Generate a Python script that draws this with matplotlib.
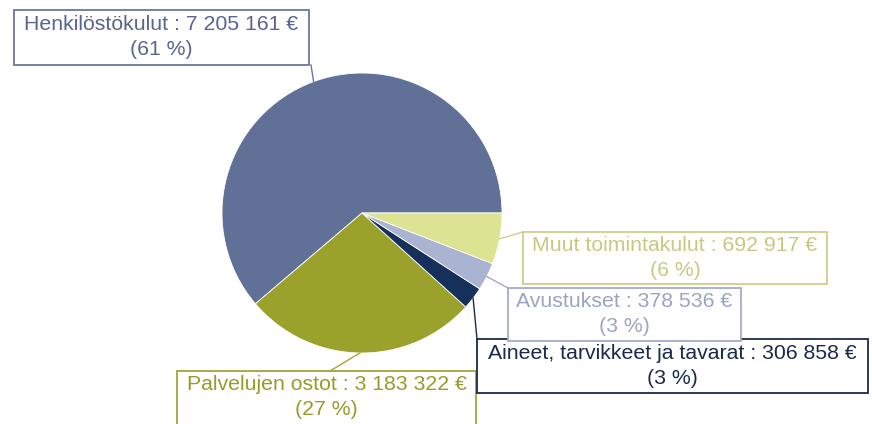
import numpy as np
import matplotlib
matplotlib.use("Agg")
import matplotlib.pyplot as plt
from matplotlib.patches import Rectangle

# ---- data ----
categories = ["Henkilöstökulut", "Palvelujen ostot", "Aineet, tarvikkeet ja tavarat",
              "Avustukset", "Muut toimintakulut"]
values = [7205161, 3183322, 306858, 378536, 692917]
value_labels = ["7 205 161 €", "3 183 322 €", "306 858 €", "378 536 €", "692 917 €"]
pct_labels = ["61 %", "27 %", "3 %", "3 %", "6 %"]

# ---- styles ----
slice_colors = ["#617097", "#9AA22B", "#15305A", "#AAB3D1", "#DCE393"]
text_colors = ["#56668F", "#969C2A", "#1A2A4C", "#9CA4C3", "#C5CA80"]
edge_colors = ["#6A789E", "#A0A63A", "#1A2A4C", "#A3ABC9", "#CBD08A"]

W, H = 872, 424
fig = plt.figure(figsize=(W / 100, H / 100), dpi=100)
ax = fig.add_axes([0, 0, 1, 1])

def Y(y):
    return H - y

cx, cy, R = 362, 213, 140
wedges, _ = ax.pie(values, colors=slice_colors, startangle=0, counterclock=True,
                   center=(cx, Y(cy)), radius=R,
                   wedgeprops=dict(linewidth=0.6, edgecolor="white"))

ax.set_xlim(0, W)
ax.set_ylim(0, H)
ax.set_aspect("auto")
ax.axis("off")

# label boxes (pixel layout: left, top, right, bottom)
boxes = [
    (14, 10, 309, 65),
    (177, 371, 476, 430),
    (477, 339, 868, 393),
    (508, 288, 741, 341),
    (523, 232, 827, 284),
]
text_centers_y = [37, 397, 366, 314, 258]
leader_ends = [(311, 65), (330, 371), (477, 339), (508, 288), (523, 232)]

for i, w in enumerate(wedges):
    mid = np.deg2rad((w.theta1 + w.theta2) / 2)
    px = cx + R * np.cos(mid)
    py = Y(cy) + R * np.sin(mid)
    ex, ey = leader_ends[i]
    ax.plot([px, ex], [py, Y(ey)], color=edge_colors[i], lw=1.0, zorder=3)

    l, t, r, b = boxes[i]
    ax.add_patch(Rectangle((l, Y(b)), r - l, b - t, facecolor="white",
                           edgecolor=edge_colors[i], lw=1.3, zorder=4))
    txt = f"{categories[i]} : {value_labels[i]}\n({pct_labels[i]})"
    ax.text((l + r) / 2, Y(text_centers_y[i]), txt, ha="center", va="center",
            color=text_colors[i], fontsize=15.3, family="Liberation Sans",
            linespacing=1.35, zorder=5)

fig.savefig("out.png", dpi=100)
